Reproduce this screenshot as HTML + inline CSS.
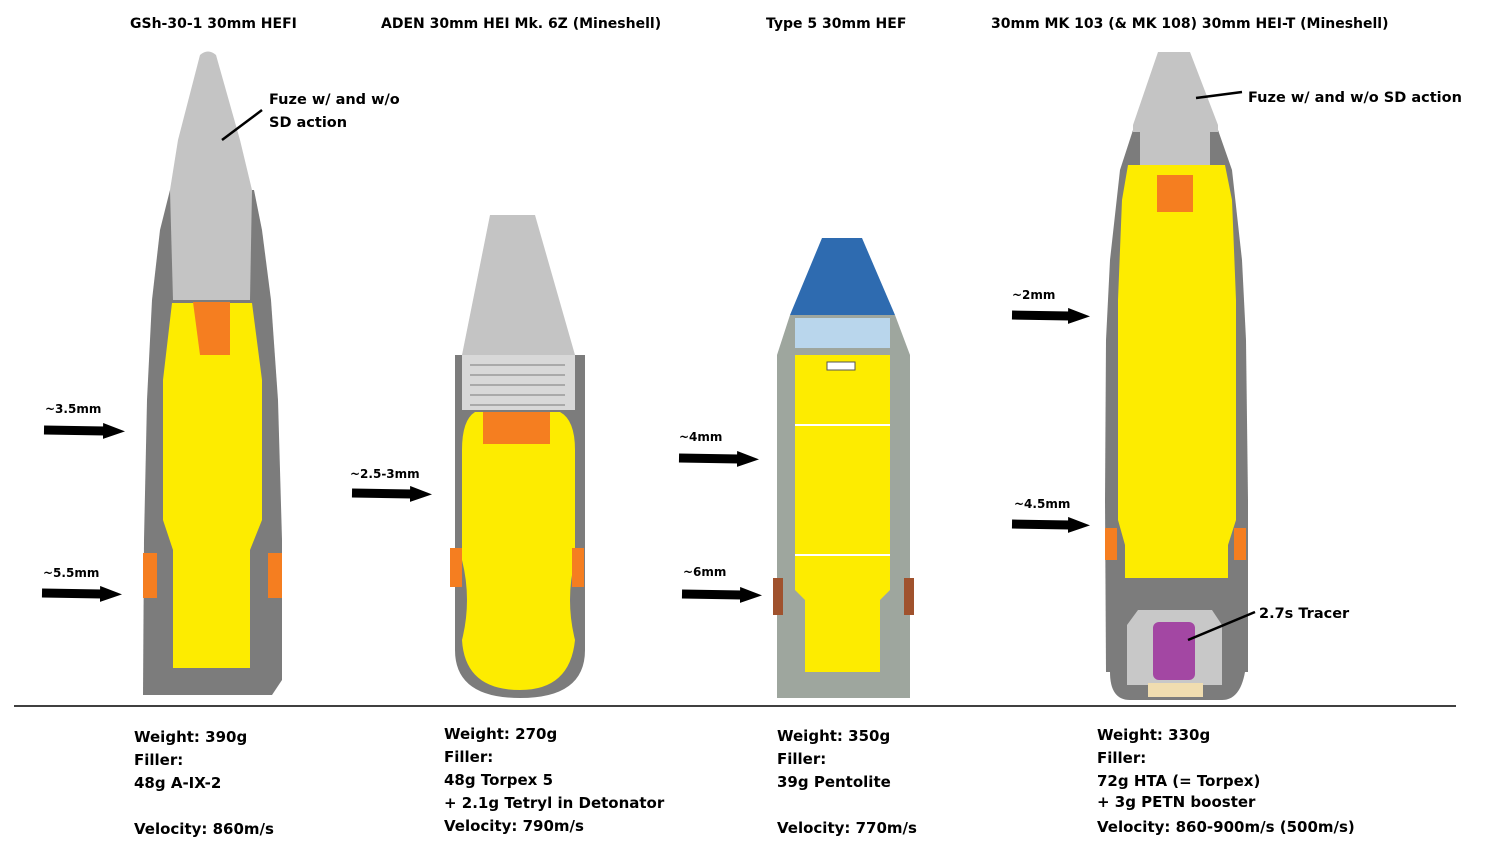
<!DOCTYPE html>
<html><head><meta charset="utf-8"><style>
body{margin:0;background:#fff;width:1493px;height:854px;overflow:hidden;font-family:"DejaVu Sans","Liberation Sans",sans-serif}
svg{position:absolute;left:0;top:0}
</style></head><body>
<svg width="1493" height="854" viewBox="0 0 1493 854" font-family="DejaVu Sans, Liberation Sans, sans-serif" font-weight="bold">
<defs>
<marker id="ah" markerUnits="userSpaceOnUse" markerWidth="22" markerHeight="16" refX="2" refY="8" orient="auto"><path d="M0,0L22,8L0,16z" fill="#000"/></marker>
</defs>
<g font-size="14" fill="#000">
<text x="130" y="28">GSh-30-1 30mm HEFI</text>
<text x="381" y="28">ADEN 30mm HEI Mk. 6Z (Mineshell)</text>
<text x="766" y="28">Type 5 30mm HEF</text>
<text x="991" y="28">30mm MK 103 (&amp; MK 108) 30mm HEI-T (Mineshell)</text>
</g>
<path d="M170,190 L160,230 L152,300 L147,400 L144,540 L143,695 L272,695 L282,680 L282,540 L278,400 L271,300 L262,230 L254,190Z" fill="#7c7c7c"/>
<path d="M200,55 Q208,48 216,55 L240,140 L252,190 L250,300 L173,300 L170,190 L178,140Z" fill="#c4c4c4"/>
<path d="M172,303 L252,303 L262,380 L262,520 L250,550 L250,668 L173,668 L173,550 L163,520 L163,380Z" fill="#fdec00"/>
<path d="M193,302 L230,302 L230,355 L200,355 Z" fill="#f57e20"/>
<path d="M143,553 L157,553 L157,598 L143,598Z M268,553 L282,553 L282,598 L268,598Z" fill="#f57e20"/>
<path d="M455,355 L585,355 L585,650 Q585,698 520,698 Q455,698 455,650Z" fill="#7c7c7c"/>
<path d="M490,215 L535,215 L575,355 L462,355Z" fill="#c4c4c4"/>
<rect x="462" y="355" width="113" height="55" fill="#d8d8d8"/>
<g stroke="#999" stroke-width="1.5"><line x1="470" y1="365" x2="565" y2="365"/><line x1="470" y1="375" x2="565" y2="375"/><line x1="470" y1="385" x2="565" y2="385"/><line x1="470" y1="395" x2="565" y2="395"/><line x1="470" y1="405" x2="565" y2="405"/></g>
<path d="M475,412 L560,412 Q575,420 575,450 L575,560 Q565,600 575,640 Q570,690 520,690 Q465,690 462,640 Q472,600 462,560 L462,450 Q462,420 475,412Z" fill="#fdec00"/>
<rect x="483" y="412" width="67" height="32" fill="#f57e20"/>
<path d="M450,548 L462,548 L462,587 L450,587Z M572,548 L584,548 L584,587 L572,587Z" fill="#f57e20"/>
<path d="M790,315 L777,355 L777,698 L910,698 L910,355 L895,315Z" fill="#9ea69e"/>
<path d="M822,238 L862,238 L895,315 L790,315Z" fill="#2e6bb0"/>
<rect x="795" y="318" width="95" height="30" fill="#b9d6ec"/>
<path d="M795,355 L890,355 L890,590 L880,600 L880,672 L805,672 L805,600 L795,590Z" fill="#fdec00"/>
<rect x="827" y="362" width="28" height="8" fill="#fff" stroke="#555"/>
<line x1="795" y1="425" x2="890" y2="425" stroke="#fff" stroke-width="2"/>
<line x1="795" y1="555" x2="890" y2="555" stroke="#fff" stroke-width="2"/>
<path d="M773,578 L783,578 L783,615 L773,615Z M904,578 L914,578 L914,615 L904,615Z" fill="#a0522d"/>
<path d="M1133,130 L1120,170 L1110,260 L1106,340 L1105,500 L1106,672 L1248,672 L1248,500 L1246,340 L1242,260 L1232,170 L1218,130Z" fill="#7c7c7c"/>
<path d="M1110,600 L1245,600 L1245,672 Q1240,700 1222,700 L1130,700 Q1110,700 1110,672Z" fill="#7c7c7c"/>
<path d="M1158,52 L1190,52 L1218,125 L1218,132 L1133,132 L1133,125Z" fill="#c4c4c4"/>
<rect x="1140" y="132" width="70" height="42" fill="#c4c4c4"/>
<path d="M1128,165 L1225,165 L1232,200 L1236,300 L1236,520 L1228,545 L1228,578 L1125,578 L1125,545 L1118,520 L1118,300 L1122,200Z" fill="#fdec00"/>
<rect x="1157" y="175" width="36" height="37" fill="#f57e20"/>
<path d="M1105,528 L1117,528 L1117,560 L1105,560Z M1234,528 L1246,528 L1246,560 L1234,560Z" fill="#f57e20"/>
<path d="M1138,610 L1212,610 L1222,625 L1222,685 L1127,685 L1127,625Z" fill="#c8c8c8"/>
<rect x="1153" y="622" width="42" height="58" rx="6" fill="#a347a3"/>
<rect x="1148" y="683" width="55" height="14" fill="#f0ddb0"/>
<g stroke="#000" stroke-width="2.5"><line x1="222" y1="140" x2="262" y2="110"/><line x1="1196" y1="98" x2="1242" y2="92"/><line x1="1188" y1="640" x2="1255" y2="612"/></g>
<g stroke="#000" stroke-width="9" marker-end="url(#ah)">
<line x1="44" y1="430" x2="105" y2="431"/><line x1="42" y1="593" x2="102" y2="594"/>
<line x1="352" y1="493" x2="412" y2="494"/>
<line x1="679" y1="458" x2="739" y2="459"/><line x1="682" y1="594" x2="742" y2="595"/>
<line x1="1012" y1="315" x2="1070" y2="316"/><line x1="1012" y1="524" x2="1070" y2="525"/>
</g>
<g font-size="12" fill="#000">
<text x="45" y="413">~3.5mm</text><text x="43" y="577">~5.5mm</text>
<text x="350" y="478">~2.5-3mm</text>
<text x="679" y="441">~4mm</text><text x="683" y="576">~6mm</text>
<text x="1012" y="299">~2mm</text><text x="1014" y="508">~4.5mm</text>
</g>
<g font-size="14.5" fill="#000">
<text x="269" y="104">Fuze w/ and w/o</text><text x="269" y="127">SD action</text>
<text x="1248" y="102">Fuze w/ and w/o SD action</text>
<text x="1259" y="618">2.7s Tracer</text>
</g>
<line x1="14" y1="706" x2="1456" y2="706" stroke="#000" stroke-width="1.5"/>
<g font-size="15" fill="#000">
<text x="134" y="742">Weight: 390g</text><text x="134" y="765">Filler:</text><text x="134" y="788">48g A-IX-2</text><text x="134" y="834">Velocity: 860m/s</text>
<text x="444" y="739">Weight: 270g</text><text x="444" y="762">Filler:</text><text x="444" y="785">48g Torpex 5</text><text x="444" y="808">+ 2.1g Tetryl in Detonator</text><text x="444" y="831">Velocity: 790m/s</text>
<text x="777" y="741">Weight: 350g</text><text x="777" y="764">Filler:</text><text x="777" y="787">39g Pentolite</text><text x="777" y="833">Velocity: 770m/s</text>
<text x="1097" y="740">Weight: 330g</text><text x="1097" y="763">Filler:</text><text x="1097" y="786">72g HTA (= Torpex)</text><text x="1097" y="807">+ 3g PETN booster</text><text x="1097" y="832">Velocity: 860-900m/s (500m/s)</text>
</g>
</svg>
</body></html>
